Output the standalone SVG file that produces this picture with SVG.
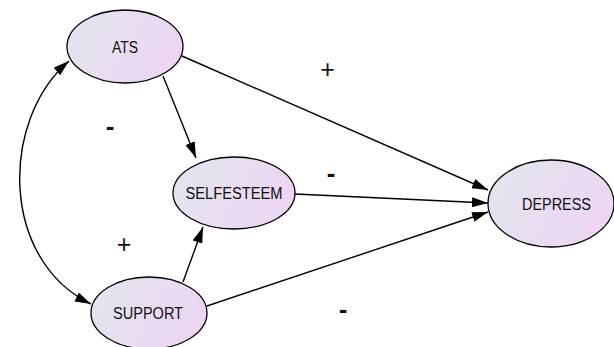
<svg xmlns="http://www.w3.org/2000/svg" width="614" height="347" viewBox="0 0 614 347">
<style>
.node ellipse{fill:url(#g);stroke:#000;stroke-width:1.3}
.node text{font-family:"Liberation Sans",Arial,sans-serif;font-size:16px;text-anchor:middle;dominant-baseline:central;fill:#111}
.edges path{fill:none;stroke:#000;stroke-width:1.4}
.plus{font-family:"Liberation Sans",Arial,sans-serif;font-size:25px;text-anchor:middle;fill:#111}
.minus{font-family:"Liberation Sans",Arial,sans-serif;font-size:26px;font-weight:bold;text-anchor:middle;fill:#111}
</style>
<defs>
<linearGradient id="g" x1="0" y1="0" x2="1" y2="0.35">
<stop offset="0" stop-color="#e2e6ee"/>
<stop offset="1" stop-color="#ecd6f2"/>
</linearGradient>
<marker id="ahl" viewBox="0 0 16 10" refX="16" refY="5" markerWidth="16" markerHeight="10" markerUnits="userSpaceOnUse" orient="auto-start-reverse">
<path d="M0,0 L16,5 L0,10 z" fill="#000"/>
</marker>
</defs>
<g class="edges">
<path d="M163,76 L196,158" marker-end="url(#ahl)"/>
<path d="M182,56 L488,190" marker-end="url(#ahl)"/>
<path d="M295,194 L488,203" marker-end="url(#ahl)"/>
<path d="M207,306 L488,212" marker-end="url(#ahl)"/>
<path d="M183,282 L203,227" marker-end="url(#ahl)"/>
<path d="M69,61 C0,120 0,260 91,304" marker-start="url(#ahl)" marker-end="url(#ahl)"/>
</g>
<g id="ATS" class="node"><ellipse cx="125" cy="46.5" rx="58" ry="36.5"/><text x="125" y="47" textLength="26" lengthAdjust="spacingAndGlyphs">ATS</text></g>
<g id="SELFESTEEM" class="node"><ellipse cx="234" cy="193" rx="61" ry="36"/><text x="234" y="193" textLength="97" lengthAdjust="spacingAndGlyphs">SELFESTEEM</text></g>
<g id="SUPPORT" class="node"><ellipse cx="149" cy="313" rx="58" ry="36"/><text x="148" y="313" textLength="70" lengthAdjust="spacingAndGlyphs">SUPPORT</text></g>
<g id="DEPRESS" class="node"><ellipse cx="551" cy="203.5" rx="63" ry="43.5"/><text x="556.5" y="204" textLength="69" lengthAdjust="spacingAndGlyphs">DEPRESS</text></g>
<g id="labels">
<text class="plus" x="327.5" y="78">+</text>
<text class="minus" x="110" y="135">-</text>
<text class="minus" x="331" y="182">-</text>
<text class="plus" x="124" y="253">+</text>
<text class="minus" x="343" y="318">-</text>
</g>
</svg>
